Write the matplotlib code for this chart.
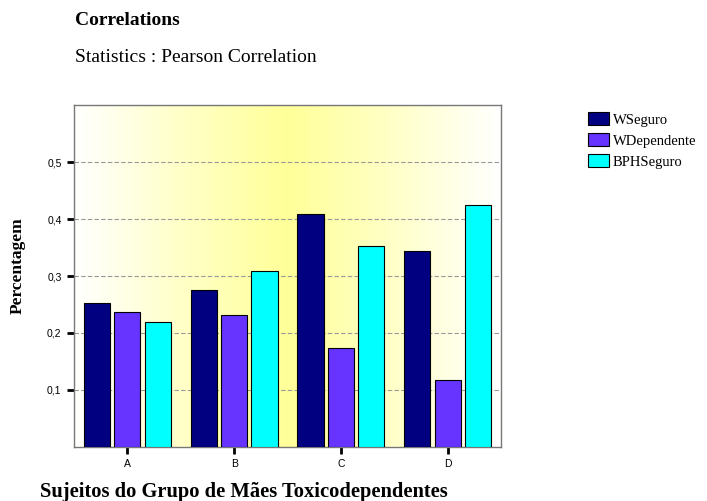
import numpy as np
import matplotlib
matplotlib.use("Agg")
import matplotlib.pyplot as plt
from matplotlib.colors import LinearSegmentedColormap

categories = ["A", "B", "C", "D"]
series_names = ["WSeguro", "WDependente", "BPHSeguro"]
wseguro = [0.253, 0.276, 0.409, 0.344]
wdependente = [0.236, 0.232, 0.174, 0.117]
bphseguro = [0.219, 0.309, 0.352, 0.425]
yticks = [0.1, 0.2, 0.3, 0.4, 0.5]
ytick_labels = ["0,1", "0,2", "0,3", "0,4", "0,5"]

NAVY = "#000080"; VIOLET = "#6633FF"; CYAN = "#00FFFF"
SERIF = "Liberation Serif"; SANS = "Liberation Sans"

fig = plt.figure(figsize=(7.07, 5.01), dpi=100)
ax = fig.add_axes([0.1047, 0.1078, 0.6039, 0.6826])

# background: white -> pale yellow -> white, horizontal
cmap = LinearSegmentedColormap.from_list("bg", ["#FFFFFF", "#FFFFC8", "#FFFF99", "#FFFFC8", "#FFFFFF"])
grad = np.linspace(0, 1, 256)[None, :]
ax.imshow(grad, cmap=cmap, aspect="auto", extent=(-0.5, 3.5, 0, 0.6), zorder=0)

x = np.arange(len(categories))
w = 0.245; off = 0.285
for i, (vals, col, name) in enumerate(zip([wseguro, wdependente, bphseguro], [NAVY, VIOLET, CYAN], series_names)):
    ax.bar(x + (i - 1) * off, vals, w, color=col, edgecolor="black", lw=0.8, label=name, zorder=3)

ax.set_xlim(-0.5, 3.5); ax.set_ylim(0, 0.6)
ax.set_yticks(yticks); ax.set_yticklabels(ytick_labels, family=SANS, fontsize=7.5)
ax.set_xticks(x); ax.set_xticklabels(categories, family=SANS, fontsize=7.5)
ax.tick_params(length=5, width=2, color="black", pad=4)
for y in yticks:
    ax.axhline(y, color="#999999", ls=(0, (4, 2)), lw=0.8, zorder=1)
for s in ax.spines.values():
    s.set_color("#777777"); s.set_linewidth(1)

fig.text(18 / 707, 1 - 266 / 501, "Percentagem", family=SERIF, fontweight="bold", fontsize=12.5,
         rotation=90, ha="center", va="center")
fig.text(40 / 707, 4 / 501, "Sujeitos do Grupo de Mães Toxicodependentes", family=SERIF,
         fontweight="bold", fontsize=14.8, va="baseline")
fig.text(75 / 707, 1 - 20.5 / 501, "Correlations", family=SERIF, fontweight="bold", fontsize=14, va="center")
fig.text(75 / 707, 1 - 58 / 501, "Statistics : Pearson Correlation", family=SERIF, fontsize=14, va="center")

fig.legend(loc="upper left", bbox_to_anchor=(588 / 707, 1 - 112 / 501), frameon=False,
           prop={"family": SERIF, "size": 10.5}, handlelength=1.45, handleheight=1.0,
           handletextpad=0.25, labelspacing=0.45, borderpad=0, borderaxespad=0)

fig.savefig("out.png", dpi=100)
